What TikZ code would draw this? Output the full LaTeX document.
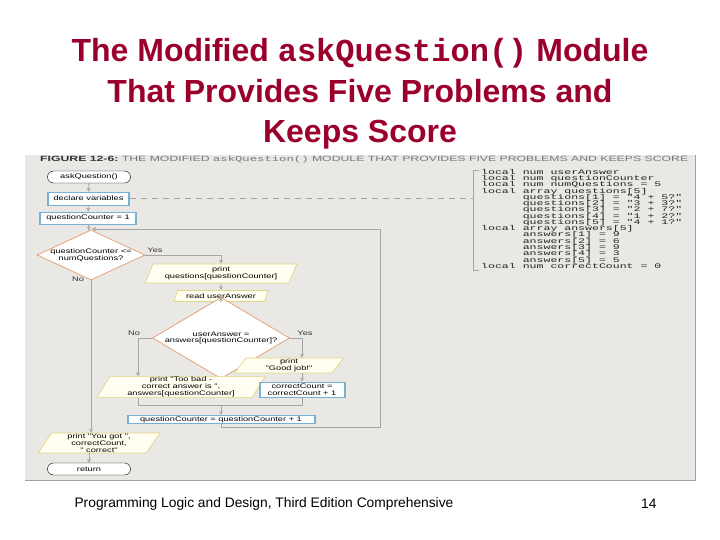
\documentclass[tikz,border=0pt]{standalone}
\usepackage{fontspec}
\usepackage{graphicx}
\setmainfont{Liberation Sans}
\newfontfamily\monofont{Liberation Mono}
\newfontfamily\flowfont[FakeStretch=1.4]{Liberation Sans}
\newfontfamily\codefont[FakeStretch=1.65]{Liberation Mono}
\usetikzlibrary{shapes.geometric,arrows.meta,positioning}

\definecolor{titlered}{RGB}{155,0,45}
\definecolor{panelbg}{RGB}{234,232,229}
\definecolor{panelline}{RGB}{160,160,160}
\definecolor{linegray}{RGB}{165,165,165}
\definecolor{boxblue}{RGB}{120,175,210}
\definecolor{ioline}{RGB}{228,212,130}
\definecolor{iofill}{RGB}{255,254,240}
\definecolor{decline}{RGB}{225,155,110}
\definecolor{headgray}{RGB}{120,120,120}
\definecolor{codegray}{RGB}{35,35,35}

\newcommand{\flowtext}{\flowfont\fontsize{6.6}{6.8}\selectfont}
\newcommand{\codetext}{\codefont\fontsize{7}{6.27}\selectfont\lineskiplimit-10pt\relax\lineskip0pt\relax}

\begin{document}
\begin{tikzpicture}[x=1pt, y=-1pt,
    flow/.style={draw=linegray, line width=0.9pt},
    arr/.style={flow, -{Stealth[length=4pt, width=4pt]}},
    term/.style={draw, fill=white, rounded corners=6pt, minimum width=83pt, minimum height=12pt, inner sep=0.5pt, font=\flowtext},
    procbox/.style={draw=boxblue, fill=white, line width=0.6pt, inner sep=0.5pt, align=center, font=\flowtext,
        path picture={\draw[boxblue, line width=3pt] (path picture bounding box.north west) -- (path picture bounding box.south west)
                                                       (path picture bounding box.north east) -- (path picture bounding box.south east);}},
    iobox/.style={trapezium, trapezium left angle=65, trapezium right angle=115, trapezium stretches=true,
        draw=ioline, fill=iofill, line width=0.7pt, inner sep=0.5pt, align=center, font=\flowtext},
    decision/.style={diamond, draw=decline, fill=white, line width=0.7pt, inner ysep=0pt, inner xsep=-22pt, align=center, font=\flowtext},
    lbl/.style={font=\flowtext, text=black!80}]
    \useasboundingbox (0,0) rectangle (720,540);

    % title
    \node[font=\bfseries\fontsize{32}{40.5}\selectfont, text=titlered, align=center] (title) at (360,94)
        {The Modified {\monofont askQuestion()} Module\\That Provides Five Problems and\\Keeps Score};

    % scanned figure panel
    \fill[panelbg] (25,155) rectangle (695,480);
    \draw[panelline] (25,480) -- (695,480) -- (695,155);
    \node[anchor=west, inner sep=0pt] (caption) at (40,160)
        {\resizebox{648pt}{5.5pt}{\textbf{\color{black!80}FIGURE 12-6:}\ \color{headgray}THE MODIFIED {\monofont askQuestion()} MODULE THAT PROVIDES FIVE PROBLEMS AND KEEPS SCORE}};

    % flowchart
    \node[term] (start) at (89,177) {askQuestion()};
    \node[procbox, minimum width=82pt, minimum height=13pt] (decl) at (88.5,198.5) {declare variables};
    \node[procbox, minimum width=97pt, minimum height=12pt] (init) at (88,218) {questionCounter = 1};
    \coordinate (join) at (92,229);
    \node[decision, minimum width=108pt, minimum height=40pt] (ask) at (91,255) {questionCounter \textless=\\numQuestions?};
    \node[iobox, minimum width=152pt, minimum height=19pt] (showq) at (221,273.5) {print\\questions[questionCounter]};
    \node[iobox, minimum width=94pt, minimum height=11pt] (readans) at (221,296) {read userAnswer};
    \node[decision, minimum width=137pt, minimum height=51pt] (check) at (221,338) {userAnswer =\\answers[questionCounter]?};
    \node[iobox, minimum width=168pt, minimum height=20pt] (wrong) at (181,387) {print "Too bad -\\correct answer is ",\\answers[questionCounter]};
    \node[iobox, minimum width=110pt, minimum height=15pt] (right) at (289,365.5) {print\\"Good job!"};
    \node[procbox, minimum width=86pt, minimum height=15pt] (score) at (302,389.5) {correctCount =\\correctCount + 1};
    \node[procbox, minimum width=188pt, minimum height=8.5pt] (nextq) at (221,419.5) {questionCounter = questionCounter + 1};
    \node[iobox, minimum width=122pt, minimum height=20pt] (result) at (99,443) {print "You got ",\\correctCount,\\" correct"};
    \node[term] (stop) at (89,469) {return};

    \node[lbl] (yes1) at (155,250) {Yes};
    \node[lbl] (no1) at (78,279) {No};
    \node[lbl] (no2) at (134,333) {No};
    \node[lbl] (yes2) at (305,333) {Yes};

    \coordinate (nocol) at (138,338);
    \coordinate (yescol) at (302,338);
    \coordinate (merge) at (221,405);
    \coordinate (loopfoot) at (380,427);

    \draw[arr] (start) -- (decl);
    \draw[arr] (decl) -- (init);
    \draw[arr] (init) -- (ask);
    \draw[arr] (ask.east) -| (showq.north);
    \draw[arr] (showq) -- (readans);
    \draw[arr] (readans) -- (check);
    \draw[arr] (check.west) -| (nocol |- wrong.north);
    \draw[arr] (check.east) -| (yescol |- right.north);
    \draw[arr] (yescol |- right.south) -- (score.north);
    \draw[flow] (nocol |- wrong.south) |- (merge);
    \draw[flow] (score.south) |- (merge);
    \draw[arr] (merge) -- (nextq.north);
    \draw[arr] (nextq.south) |- (loopfoot) |- (join);
    \draw[arr] (ask.south) -- (ask.south |- result.north);
    \draw[arr] (result.south -| stop.north) -- (stop.north);

    % declarations
    \node[anchor=north west, inner sep=0pt, align=left, text=codegray, font=\codetext] (code) at (481,169)
        {local num userAnswer\\
         local num questionCounter\\
         local num numQuestions = 5\\
         local array questions[5]\\
         \phantom{local} questions[1] = "4 + 5?"\\
         \phantom{local} questions[2] = "3 + 3?"\\
         \phantom{local} questions[3] = "2 + 7?"\\
         \phantom{local} questions[4] = "1 + 2?"\\
         \phantom{local} questions[5] = "4 + 1?"\\
         local array answers[5]\\
         \phantom{local} answers[1] = 9\\
         \phantom{local} answers[2] = 6\\
         \phantom{local} answers[3] = 9\\
         \phantom{local} answers[4] = 3\\
         \phantom{local} answers[5] = 5\\
         local num correctCount = 0};
    \coordinate (brtop) at (473,170);
    \coordinate (brbot) at (473,270);
    \draw[linegray, line width=0.8pt] ([xshift=6pt]brtop) -- (brtop) -- (brbot) -- ([xshift=6pt]brbot);
    \draw[flow, dash pattern=on 6pt off 5pt] (decl.east) -- (decl.east -| brtop);

    % footer
    \node[anchor=west, font=\fontsize{13.8}{15}\selectfont] (footer) at (71,504) {Programming Logic and Design, Third Edition Comprehensive};
    \node[anchor=east, font=\fontsize{13.8}{15}\selectfont] (pagenum) at (660,504) {14};
\end{tikzpicture}
\end{document}
